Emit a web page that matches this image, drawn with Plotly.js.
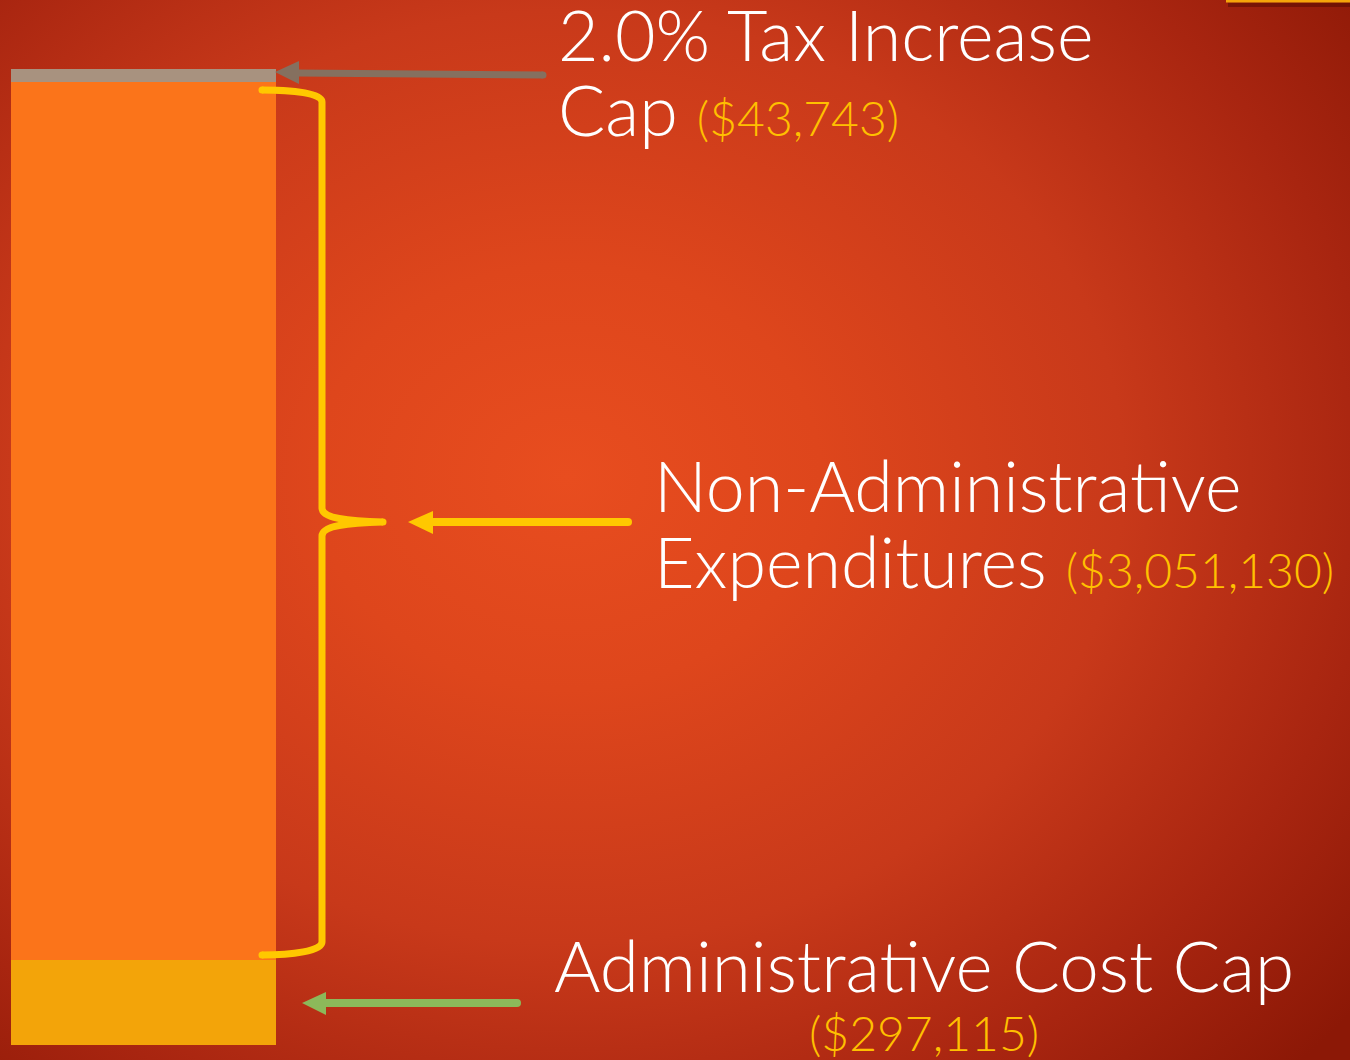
<!DOCTYPE html>
<html>
<head>
<meta charset="utf-8">
<script src="https://cdn.plot.ly/plotly-3.0.1.min.js"></script>
<style>
  html, body { margin: 0; padding: 0; width: 1350px; height: 1060px; overflow: hidden; }
  body { background: radial-gradient(ellipse 75% 80% at 42% 45%, #E84D1F 0%, #DE461C 25%, #C8391A 55%, #A82510 80%, #8C1806 100%); }
  #chart { width: 1350px; height: 1060px; }
</style>
</head>
<body>
<div id="chart"></div>
<script>
// ---- data ----
const categories = ['Budget'];
const segmentNames = ['Administrative Cost Cap', 'Non-Administrative Expenditures', '2.0% Tax Increase Cap'];
const adminCostCap = [297115];
const nonAdminExpenditures = [3051130];
const taxIncreaseCap = [43743];
const valueLabels = ['($297,115)', '($3,051,130)', '($43,743)'];

// ---- helpers (pixel -> paper) ----
const W = 1350, H = 1060;
const px = x => x / W;
const py = y => 1 - y / H;
function path(pts) {
  return pts.map(p => p[0] + ' ' + p.slice(1).reduce((a, v, i) => a + (i % 2 === 0 ? px(v) : ',' + py(v) + ' '), '')).join(' ');
}

const total = adminCostCap[0] + nonAdminExpenditures[0] + taxIncreaseCap[0];
const barTop = 69, barBottom = 1045, barLeft = 11, barWidthPx = 265;
const perPx = total / (barBottom - barTop);
const yRange = [-(H - barBottom) * perPx, total + barTop * perPx];
const xStart = -0.5 - barLeft / barWidthPx;
const xRange = [xStart, xStart + W / barWidthPx];

const traces = [
  { type: 'bar', x: [0], y: adminCostCap, width: 1, name: segmentNames[0], marker: { color: '#F3A409', line: { width: 0 } }, hovertemplate: segmentNames[0] + ': %{y:$,}<extra></extra>' },
  { type: 'bar', x: [0], y: nonAdminExpenditures, width: 1, name: segmentNames[1], marker: { color: '#FB741A', line: { width: 0 } }, hovertemplate: segmentNames[1] + ': %{y:$,}<extra></extra>' },
  { type: 'bar', x: [0], y: taxIncreaseCap, width: 1, name: segmentNames[2], marker: { color: '#A8927F', line: { width: 0 } }, hovertemplate: segmentNames[2] + ': %{y:$,}<extra></extra>' }
];

const YEL = '#FFC800';
const shapes = [
  // brace
  { type: 'path', xref: 'paper', yref: 'paper', line: { color: YEL, width: 7 },
    path: path([['M', 262, 90], ['C', 292, 90, 322, 93, 322, 102], ['L', 322, 508], ['C', 322, 518, 345, 521, 383, 522], ['C', 345, 523, 322, 526, 322, 536], ['L', 322, 942], ['C', 322, 951, 292, 955, 262, 955]]) },
  // gray arrow
  { type: 'line', xref: 'paper', yref: 'paper', x0: px(297), y0: py(73), x1: px(543), y1: py(75), line: { color: '#85705F', width: 7 } },
  { type: 'path', xref: 'paper', yref: 'paper', fillcolor: '#85705F', line: { width: 0 }, path: path([['M', 275, 72], ['L', 299, 61], ['L', 299, 84]]) + ' Z' },
  { type: 'circle', xref: 'paper', yref: 'paper', x0: px(539.5), x1: px(546.5), y0: py(71.5), y1: py(78.5), fillcolor: '#85705F', line: { width: 0 } },
  // yellow arrow
  { type: 'line', xref: 'paper', yref: 'paper', x0: px(430), y0: py(522), x1: px(628), y1: py(522), line: { color: YEL, width: 8 } },
  { type: 'path', xref: 'paper', yref: 'paper', fillcolor: YEL, line: { width: 0 }, path: path([['M', 408, 522], ['L', 433, 511], ['L', 433, 534]]) + ' Z' },
  { type: 'circle', xref: 'paper', yref: 'paper', x0: px(624), x1: px(632), y0: py(518), y1: py(526), fillcolor: YEL, line: { width: 0 } },
  // green arrow
  { type: 'line', xref: 'paper', yref: 'paper', x0: px(322), y0: py(1003), x1: px(517), y1: py(1003), line: { color: '#8CB95A', width: 8 } },
  { type: 'path', xref: 'paper', yref: 'paper', fillcolor: '#8CB95A', line: { width: 0 }, path: path([['M', 302, 1003], ['L', 326, 992], ['L', 326, 1015]]) + ' Z' },
  { type: 'circle', xref: 'paper', yref: 'paper', x0: px(513), x1: px(521), y0: py(999), y1: py(1007), fillcolor: '#8CB95A', line: { width: 0 } },
  // brace end caps
  { type: 'circle', xref: 'paper', yref: 'paper', x0: px(258.5), x1: px(265.5), y0: py(86.5), y1: py(93.5), fillcolor: YEL, line: { width: 0 } },
  { type: 'circle', xref: 'paper', yref: 'paper', x0: px(258.5), x1: px(265.5), y0: py(951.5), y1: py(958.5), fillcolor: YEL, line: { width: 0 } },
  { type: 'circle', xref: 'paper', yref: 'paper', x0: px(379.5), x1: px(386.5), y0: py(518.5), y1: py(525.5), fillcolor: YEL, line: { width: 0 } },
  // top-right slide decoration
  { type: 'rect', xref: 'paper', yref: 'paper', x0: px(1228), x1: 1, y0: py(7), y1: py(2.5), fillcolor: 'rgba(50,0,0,0.35)', line: { width: 0 } },
  { type: 'rect', xref: 'paper', yref: 'paper', x0: px(1226), x1: 1, y0: py(2.5), y1: 1, fillcolor: '#F5A50A', line: { width: 0 } }
];

const FAM = 'Lato, "Open Sans", sans-serif';
const big = s => '<span style="font-size:70px">' + s + '</span>';
const bigW = s => '<span style="font-size:71px">' + s + '</span>';
const yel = s => '<span style="color:#FFC000;font-size:48px">' + s + '</span>';
function ann(text, x, y, xanchor, lineSize) {
  return { text: text, xref: 'paper', yref: 'paper', x: px(x), y: py(y), xanchor: xanchor || 'left', yanchor: 'middle',
    align: xanchor === 'center' ? 'center' : 'left',
    showarrow: false, font: { family: FAM, color: '#FFFFFF', size: lineSize, weight: 300 }, borderpad: 0 };
}
const annotations = [
  ann(big('2.0% Tax Increase') + '<br>' + big('Cap ') + yel(valueLabels[2]), 557, 72, 'left', 58),
  ann(big('Non-Administrative') + '<br>' + big('Expenditures ') + yel(valueLabels[1]), 653, 523, 'left', 58.5),
  ann(bigW('Administrative Cost Cap') + '<br>' + yel(valueLabels[0]), 924, 991, 'center', 45.5)
];

const layout = {
  width: W, height: H,
  margin: { l: 0, r: 0, t: 0, b: 0, pad: 0 },
  paper_bgcolor: 'rgba(0,0,0,0)', plot_bgcolor: 'rgba(0,0,0,0)',
  barmode: 'stack', bargap: 0, showlegend: false,
  xaxis: { range: xRange, visible: false, fixedrange: true },
  yaxis: { range: yRange, visible: false, fixedrange: true },
  shapes: shapes, annotations: annotations
};

Plotly.newPlot('chart', traces, layout, { displayModeBar: false });
</script>
</body>
</html>
